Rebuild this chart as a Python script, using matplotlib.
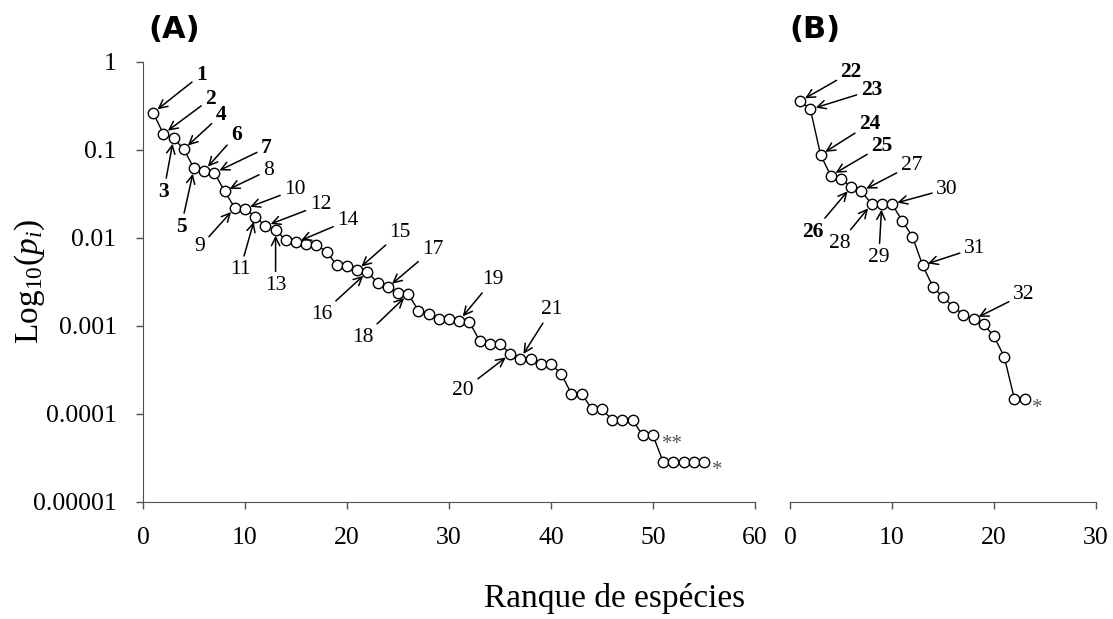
import numpy as np
import matplotlib
matplotlib.use('Agg')
import matplotlib.pyplot as plt
from matplotlib.ticker import FixedLocator, FixedFormatter, NullLocator

plt.rcParams['font.family'] = ['Liberation Serif', 'DejaVu Serif']
plt.rcParams['mathtext.fontset'] = 'custom'
plt.rcParams['mathtext.rm'] = 'Liberation Serif'
plt.rcParams['mathtext.it'] = 'Liberation Serif:italic'

#
# Data (relative abundance p_i by species rank)
#

# Panel A
pi_a = [0.265, 0.152, 0.136, 0.102, 0.062, 0.058, 0.055, 0.034, 0.022, 0.0215,
        0.0175, 0.0137, 0.0123, 0.0095, 0.0089, 0.0085, 0.0083, 0.0070, 0.0049, 0.0048,
        0.0043, 0.0041, 0.0031, 0.00275, 0.0024, 0.0023, 0.0015, 0.00137, 0.00121, 0.00121,
        0.00115, 0.00111, 0.00068, 0.00063, 0.00063, 0.00048, 0.000425, 0.000425, 0.00037, 0.00037,
        0.000285, 0.000170, 0.000170, 0.000114, 0.000114, 0.0000855, 0.0000855, 0.0000855, 0.000057, 0.000057,
        0.0000285, 0.0000285, 0.0000285, 0.0000285, 0.0000285]
rank_a = np.arange(1, len(pi_a) + 1)

# Panel B
pi_b = [0.36, 0.29, 0.088, 0.051, 0.047, 0.038, 0.034, 0.0243, 0.0243, 0.0243,
        0.0157, 0.0104, 0.0049, 0.0028, 0.00212, 0.00166, 0.00135, 0.00119, 0.00105, 0.00076,
        0.00045, 0.000148, 0.000148]
rank_b = np.arange(1, len(pi_b) + 1)

# Species labels and the rank they point to
labels_a = ['1', '2', '3', '4', '5', '6', '7', '8', '9', '10', '11', '12', '13', '14',
            '15', '16', '17', '18', '19', '20', '21']
target_a = [1, 2, 3, 4, 5, 6, 7, 8, 9, 10, 11, 12, 13, 15, 21, 22, 24, 26, 31, 36, 37]
labels_b = ['22', '23', '24', '25', '26', '27', '28', '29', '30', '31', '32']
target_b = [1, 2, 3, 4, 6, 7, 8, 9, 10, 13, 18]

# Asterisk marks (label, rank)
stars_a = [('**', 50), ('*', 55)]
stars_b = [('*', 23)]

yticks = [1e-5, 1e-4, 1e-3, 1e-2, 1e-1, 1]
yticklabels = ['0.00001', '0.0001', '0.001', '0.01', '0.1', '1']

# Layout of label text relative to the point (pixels, bold flag)
layout_a = [(48, 38, True), (47, 35, True), (-10, -54, True), (37, 34, True), (-13, -59, True),
            (32, 36, True), (52, 25, True), (44, 21, False), (-35, -39, False), (50, 19, False),
            (-15, -53, False), (55, 21, False), (0, -55, False), (52, 22, False), (43, 38, False),
            (-46, -42, False), (45, 38, False), (-45, -43, False), (34, 41, False), (-47, -36, False),
            (31, 49, False)]
layout_b = [(51, 29, True), (61, 19, True), (49, 31, True), (51, 30, True), (-38, -45, True),
            (50, 26, False), (-32, -39, False), (-3, -53, False), (55, 15, False), (52, 17, False),
            (50, 25, False)]

W, H = 1113, 619
fig = plt.figure(figsize=(W / 100, H / 100), dpi=100)
ax_a = fig.add_axes([143 / W, 1 - 502 / H, (755 - 143) / W, (502 - 62) / H])
ax_b = fig.add_axes([790 / W, 1 - 502 / H, (1096 - 790) / W, (502 - 62) / H])

spine_col = '#505050'


def draw_panel(ax, ranks, pi, labels, targets, layout, stars):
    ax.plot(ranks, pi, color='black', linewidth=1, marker='o', markersize=7.5,
            markerfacecolor='white', markeredgecolor='black', markeredgewidth=1, zorder=3)
    for lab, r, (dx, dy, bold) in zip(labels, targets, layout):
        ax.annotate(lab, xy=(r, pi[r - 1]), xytext=(dx, dy), textcoords='offset pixels',
                    ha='center', va='center', fontsize=15.5,
                    fontweight='bold' if bold else 'normal',
                    arrowprops=dict(arrowstyle='->', color='black', lw=1.1,
                                    shrinkA=1, shrinkB=4, mutation_scale=15))
    for s, r in stars:
        dx = 19 if len(s) == 2 else 13
        ax.annotate(s, xy=(r, pi[r - 1]), xytext=(dx, -9), textcoords='offset pixels',
                    ha='center', va='center', fontsize=15, color='#555555')
    ax.set_yscale('log')
    ax.set_ylim(1e-5, 1)
    for side in ['top', 'right']:
        ax.spines[side].set_visible(False)
    ax.spines['bottom'].set_color(spine_col)
    ax.spines['left'].set_color(spine_col)
    ax.tick_params(axis='x', which='major', direction='out', length=5, width=1,
                   color=spine_col, labelsize=18.5, pad=13)
    ax.tick_params(axis='y', which='major', direction='out', length=5, width=1,
                   color=spine_col, labelsize=18.5, pad=14)
    ax.yaxis.set_minor_locator(NullLocator())


draw_panel(ax_a, rank_a, pi_a, labels_a, target_a, layout_a, stars_a)
draw_panel(ax_b, rank_b, pi_b, labels_b, target_b, layout_b, stars_b)

ax_a.set_xlim(0, 60)
ax_a.set_xticks([0, 10, 20, 30, 40, 50, 60])
ax_a.yaxis.set_major_locator(FixedLocator(yticks))
ax_a.yaxis.set_major_formatter(FixedFormatter(yticklabels))

ax_b.set_xlim(0, 30)
ax_b.set_xticks([0, 10, 20, 30])
ax_b.spines['left'].set_visible(False)
ax_b.yaxis.set_major_locator(NullLocator())

for ax in (ax_a, ax_b):
    for lab in ax.get_xticklabels() + ax.get_yticklabels():
        lab.set_clip_on(False)
    for art in ax.texts:
        art.set_clip_on(False)

# Panel tags and axis titles
fig.text(174 / W, 1 - 30 / H, '(A)', fontsize=22, fontweight='bold',
         family='DejaVu Sans', ha='center', va='center')
fig.text(815 / W, 1 - 30 / H, '(B)', fontsize=22, fontweight='bold',
         family='DejaVu Sans', ha='center', va='center')
fig.text(30 / W, 1 - 282 / H, r'Log$_{10}$($p_i$)', fontsize=24, rotation=90,
         ha='center', va='center')
fig.text(615 / W, 1 - 598 / H, 'Ranque de espécies', fontsize=24,
         ha='center', va='center')

fig.savefig('out.png', dpi=100)
